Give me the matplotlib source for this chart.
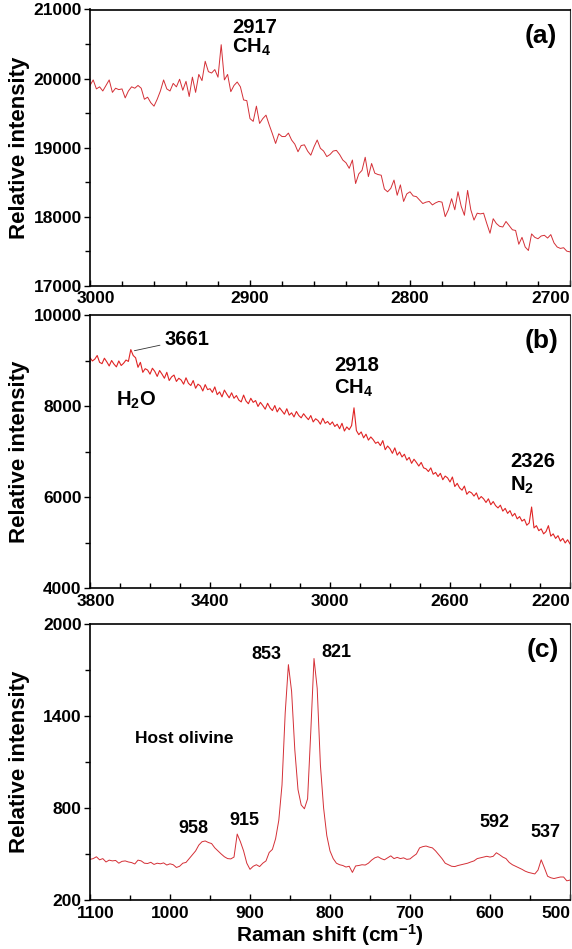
import numpy as np
import matplotlib
matplotlib.use('Agg')
import matplotlib.pyplot as plt
from matplotlib.transforms import ScaledTranslation

plt.rcParams['font.family'] = ['Liberation Sans', 'DejaVu Sans']
plt.rcParams['font.weight'] = 'bold'
plt.rcParams['mathtext.fontset'] = 'custom'
plt.rcParams['mathtext.rm'] = 'Liberation Sans:bold'
plt.rcParams['mathtext.bf'] = 'Liberation Sans:bold'
plt.rcParams['mathtext.it'] = 'Liberation Sans:bold'
plt.rcParams['mathtext.default'] = 'rm'

# ---------------- data ----------------
# Panel (a): 3000 -> 2700 cm-1, step 2
shift_a = np.arange(3000, 2699, -2)
int_a = [19900, 19980, 19850, 19880, 19820, 19900, 19980, 19800, 19860, 19840,
         19850, 19720, 19820, 19880, 19860, 19900, 19860, 19700, 19730, 19650,
         19600, 19700, 19820, 19980, 19850, 19820, 19930, 19880, 19990, 19830,
         19960, 19740, 20020, 19800, 20060, 19970, 20250, 20100, 20080, 20130,
         20020, 20490, 19980, 20060, 19810, 19900, 19950, 19880, 19690, 19680,
         19420, 19380, 19600, 19350, 19420, 19470, 19330, 19200, 19060, 19200,
         19160, 19160, 19210, 19110, 19050, 18940, 19030, 19040, 18950, 18890,
         19010, 19110, 18990, 18950, 18870, 18900, 18950, 18960, 18900, 18820,
         18780, 18700, 18820, 18480, 18620, 18670, 18860, 18580, 18770, 18630,
         18610, 18600, 18400, 18360, 18410, 18530, 18310, 18460, 18220, 18330,
         18360, 18300, 18290, 18240, 18190, 18210, 18220, 18170, 18200, 18220,
         18210, 18000, 18100, 18260, 18100, 18360, 18150, 18020, 18380, 18100,
         17950, 18050, 18040, 18050, 17900, 17760, 17970, 17900, 17860, 17850,
         17930, 17870, 17810, 17800, 17600, 17700, 17560, 17510, 17750, 17700,
         17680, 17720, 17730, 17690, 17740, 17620, 17560, 17540, 17550, 17500,
         17490]

# Panel (b): 3800 -> 2200 cm-1, step 8
shift_b = np.arange(3800, 2199, -8)
int_b = [9060, 8990, 9030, 9110, 8960, 8930, 9050, 8970, 8880, 9000,
         8920, 8860, 8990, 8890, 8940, 9010, 8980, 9240, 9110, 9060,
         8850, 8960, 8740, 8820, 8790, 8700, 8830, 8760, 8650, 8780,
         8700, 8610, 8740, 8560, 8640, 8680, 8540, 8610, 8570, 8480,
         8620, 8500, 8450, 8560, 8390, 8480, 8440, 8330, 8470, 8360,
         8380, 8300, 8420, 8250, 8310, 8200, 8350, 8260, 8180, 8290,
         8170, 8230, 8130, 8090, 8240, 8110, 8050, 8170, 8080, 8120,
         7990, 8080, 8010, 7930, 8060, 7960, 7900, 8010, 7870, 7960,
         7890, 7820, 7940, 7800, 7850, 7760, 7880, 7790, 7740, 7830,
         7760, 7700, 7790, 7650, 7720, 7680, 7600, 7730, 7620, 7660,
         7590, 7650, 7550, 7600, 7500, 7620, 7450, 7540, 7480, 7570,
         7960, 7460, 7370, 7430, 7300, 7380, 7250, 7320, 7260, 7180,
         7210, 7130, 7240, 7040, 7120, 7060, 6960, 7080, 6920, 6990,
         6880, 6940, 6810, 6870, 6740, 6830, 6760, 6680, 6760, 6640,
         6620, 6560, 6640, 6500, 6540, 6450, 6520, 6380, 6460, 6420,
         6330, 6440, 6230, 6300, 6200, 6150, 6240, 6060, 6120, 6090,
         6020, 6090, 5950, 6010, 5960, 5880, 5960, 5830, 5900, 5810,
         5760, 5820, 5690, 5750, 5640, 5700, 5580, 5640, 5520, 5570,
         5470, 5510, 5380, 5430, 5780, 5320, 5370, 5260, 5300, 5190,
         5240, 5370, 5140, 5190, 5090, 5150, 5030, 5090, 4990, 5060,
         4970]

# Panel (c): 1100 -> 500 cm-1, step 4
shift_c = np.arange(1100, 499, -4)
int_c = [465, 470, 482, 462, 470, 448, 460, 455, 458, 440,
         452, 455, 448, 444, 435, 460, 455, 440, 438, 446,
         432, 440, 436, 442, 428, 436, 430, 412, 420, 440,
         445, 470, 495, 520, 558, 580, 585, 575, 568, 540,
         520, 500, 482, 470, 468, 480, 630, 580, 520, 440,
         400, 420, 430, 418, 440, 455, 510, 530, 600, 720,
         950, 1420, 1735, 1560, 1180, 920, 820, 795, 860, 1300,
         1775, 1580, 1080, 800, 620, 520, 470, 440, 430, 425,
         415, 420, 380, 422, 425, 430, 428, 440, 460, 475,
         482, 470, 462, 475, 488, 470, 478, 470, 475, 465,
         468, 485, 500, 540, 548, 552, 545, 540, 520, 495,
         470, 440, 430, 420, 418, 425, 430, 435, 440, 448,
         455, 470, 475, 480, 485, 480, 485, 508, 495, 480,
         470, 445, 430, 420, 410, 400, 388, 380, 375, 370,
         395, 462, 410, 355, 345, 340, 345, 350, 350, 325,
         330]

assert len(shift_a) == len(int_a)
assert len(shift_b) == len(int_b)
assert len(shift_c) == len(int_c)

xticks_a = [3000, 2900, 2800, 2700]
yticks_a = [17000, 18000, 19000, 20000, 21000]
xticks_b = [3800, 3400, 3000, 2600, 2200]
yticks_b = [4000, 6000, 8000, 10000]
xticks_c = [1100, 1000, 900, 800, 700, 600, 500]
yticks_c = [200, 800, 1400, 2000]

# ---------------- figure ----------------
fig = plt.figure(figsize=(5.72, 9.49), dpi=100)
L = 90 / 572
W = 480 / 572
axA = fig.add_axes([L, 1 - 285.7 / 949, W, 276.2 / 949])
axB = fig.add_axes([L, 1 - 588 / 949, W, 273 / 949])
axC = fig.add_axes([L, 1 - 900 / 949, W, 276 / 949])

col_ac = '#d42f36'
col_b = '#e02424'
axA.plot(shift_a, int_a, color=col_ac, lw=0.7)
axB.plot(shift_b, int_b, color=col_b, lw=0.8)
axC.plot(shift_c, int_c, color=col_ac, lw=0.7)


def style(ax, xlim, ylim, xt, xminor, yt, yminor):
    ax.set_xlim(*xlim)
    ax.set_ylim(*ylim)
    ax.set_xticks(xt)
    ax.set_xticks(xminor, minor=True)
    ax.set_yticks(yt)
    ax.set_yticks(yminor, minor=True)
    ax.tick_params(axis='x', which='both', direction='in', top=False,
                   labelsize=12.5, pad=4, width=1)
    ax.tick_params(axis='x', which='major', length=4)
    ax.tick_params(axis='x', which='minor', length=3.5)
    ax.tick_params(axis='y', which='both', direction='out', right=False,
                   labelsize=12.5, pad=2, width=1)
    ax.tick_params(axis='y', which='major', length=4)
    ax.tick_params(axis='y', which='minor', length=3.5)
    for s in ['left', 'bottom', 'top']:
        ax.spines[s].set_linewidth(1.2)
    ax.spines['right'].set_linewidth(0.8)
    ax.spines['right'].set_color('#333333')
    ax.set_ylabel('Relative intensity', fontsize=16, fontweight='bold')
    ax.yaxis.set_label_coords(-0.125, 0.5)
    labs = ax.get_xticklabels()
    labs[0].set_transform(labs[0].get_transform() +
                          ScaledTranslation(0.06, 0, fig.dpi_scale_trans))
    labs[-1].set_horizontalalignment('right')


style(axA, (3000, 2700), (17000, 21000), xticks_a,
      [2980, 2960, 2940, 2920, 2880, 2860, 2840, 2820, 2780, 2760, 2740, 2720],
      yticks_a, [17500, 18500, 19500, 20500])
style(axB, (3800, 2200), (4000, 10000), xticks_b,
      [3700, 3600, 3500, 3300, 3200, 3100, 2900, 2800, 2700, 2500, 2400, 2300],
      yticks_b, [5000, 7000, 9000])
style(axC, (1100, 500), (200, 2000), xticks_c,
      [1050, 950, 850, 750, 650, 550],
      yticks_c, [500, 1100, 1700])

# ---------------- annotations ----------------
fa = 14.5
axA.text(2911, 20660, '2917', fontsize=fa, ha='left', va='baseline')
axA.text(2911, 20380, 'CH$_4$', fontsize=fa, ha='left', va='baseline')
axA.text(0.973, 0.905, '(a)', transform=axA.transAxes, fontsize=19,
         ha='right', va='center')

axB.annotate('3661', xy=(3652, 9215), xytext=(3553, 9341), fontsize=fa,
             ha='left', va='baseline',
             arrowprops=dict(arrowstyle='-', lw=0.6, color='#333333',
                             shrinkA=1, shrinkB=0))
axB.text(3713, 8000, 'H$_2$O', fontsize=fa, ha='left', va='baseline')
axB.text(2987, 8769, '2918', fontsize=fa, ha='left', va='baseline')
axB.text(2987, 8264, 'CH$_4$', fontsize=fa, ha='left', va='baseline')
axB.text(2400, 6659, '2326', fontsize=fa, ha='left', va='baseline')
axB.text(2400, 6139, 'N$_2$', fontsize=fa, ha='left', va='baseline')
axB.text(0.977, 0.905, '(b)', transform=axB.transAxes, fontsize=19,
         ha='right', va='center')

fc = 13
axC.text(880, 1772, '853', fontsize=fc, ha='center', va='baseline')
axC.text(792, 1785, '821', fontsize=fc, ha='center', va='baseline')
axC.text(971, 637, '958', fontsize=fc, ha='center', va='baseline')
axC.text(907, 689, '915', fontsize=fc, ha='center', va='baseline')
axC.text(595, 676, '592', fontsize=fc, ha='center', va='baseline')
axC.text(531, 611, '537', fontsize=fc, ha='center', va='baseline')
axC.text(1044, 1224, 'Host olivine', fontsize=12.5, ha='left', va='baseline')
axC.text(0.977, 0.906, '(c)', transform=axC.transAxes, fontsize=19,
         ha='right', va='center')

axC.set_xlabel('Raman shift (cm$^{-1}$)', fontsize=15, fontweight='bold')
axC.xaxis.label.set_verticalalignment('baseline')
axC.xaxis.set_label_coords(0.5, -0.150)

fig.savefig('out.png', dpi=100)
